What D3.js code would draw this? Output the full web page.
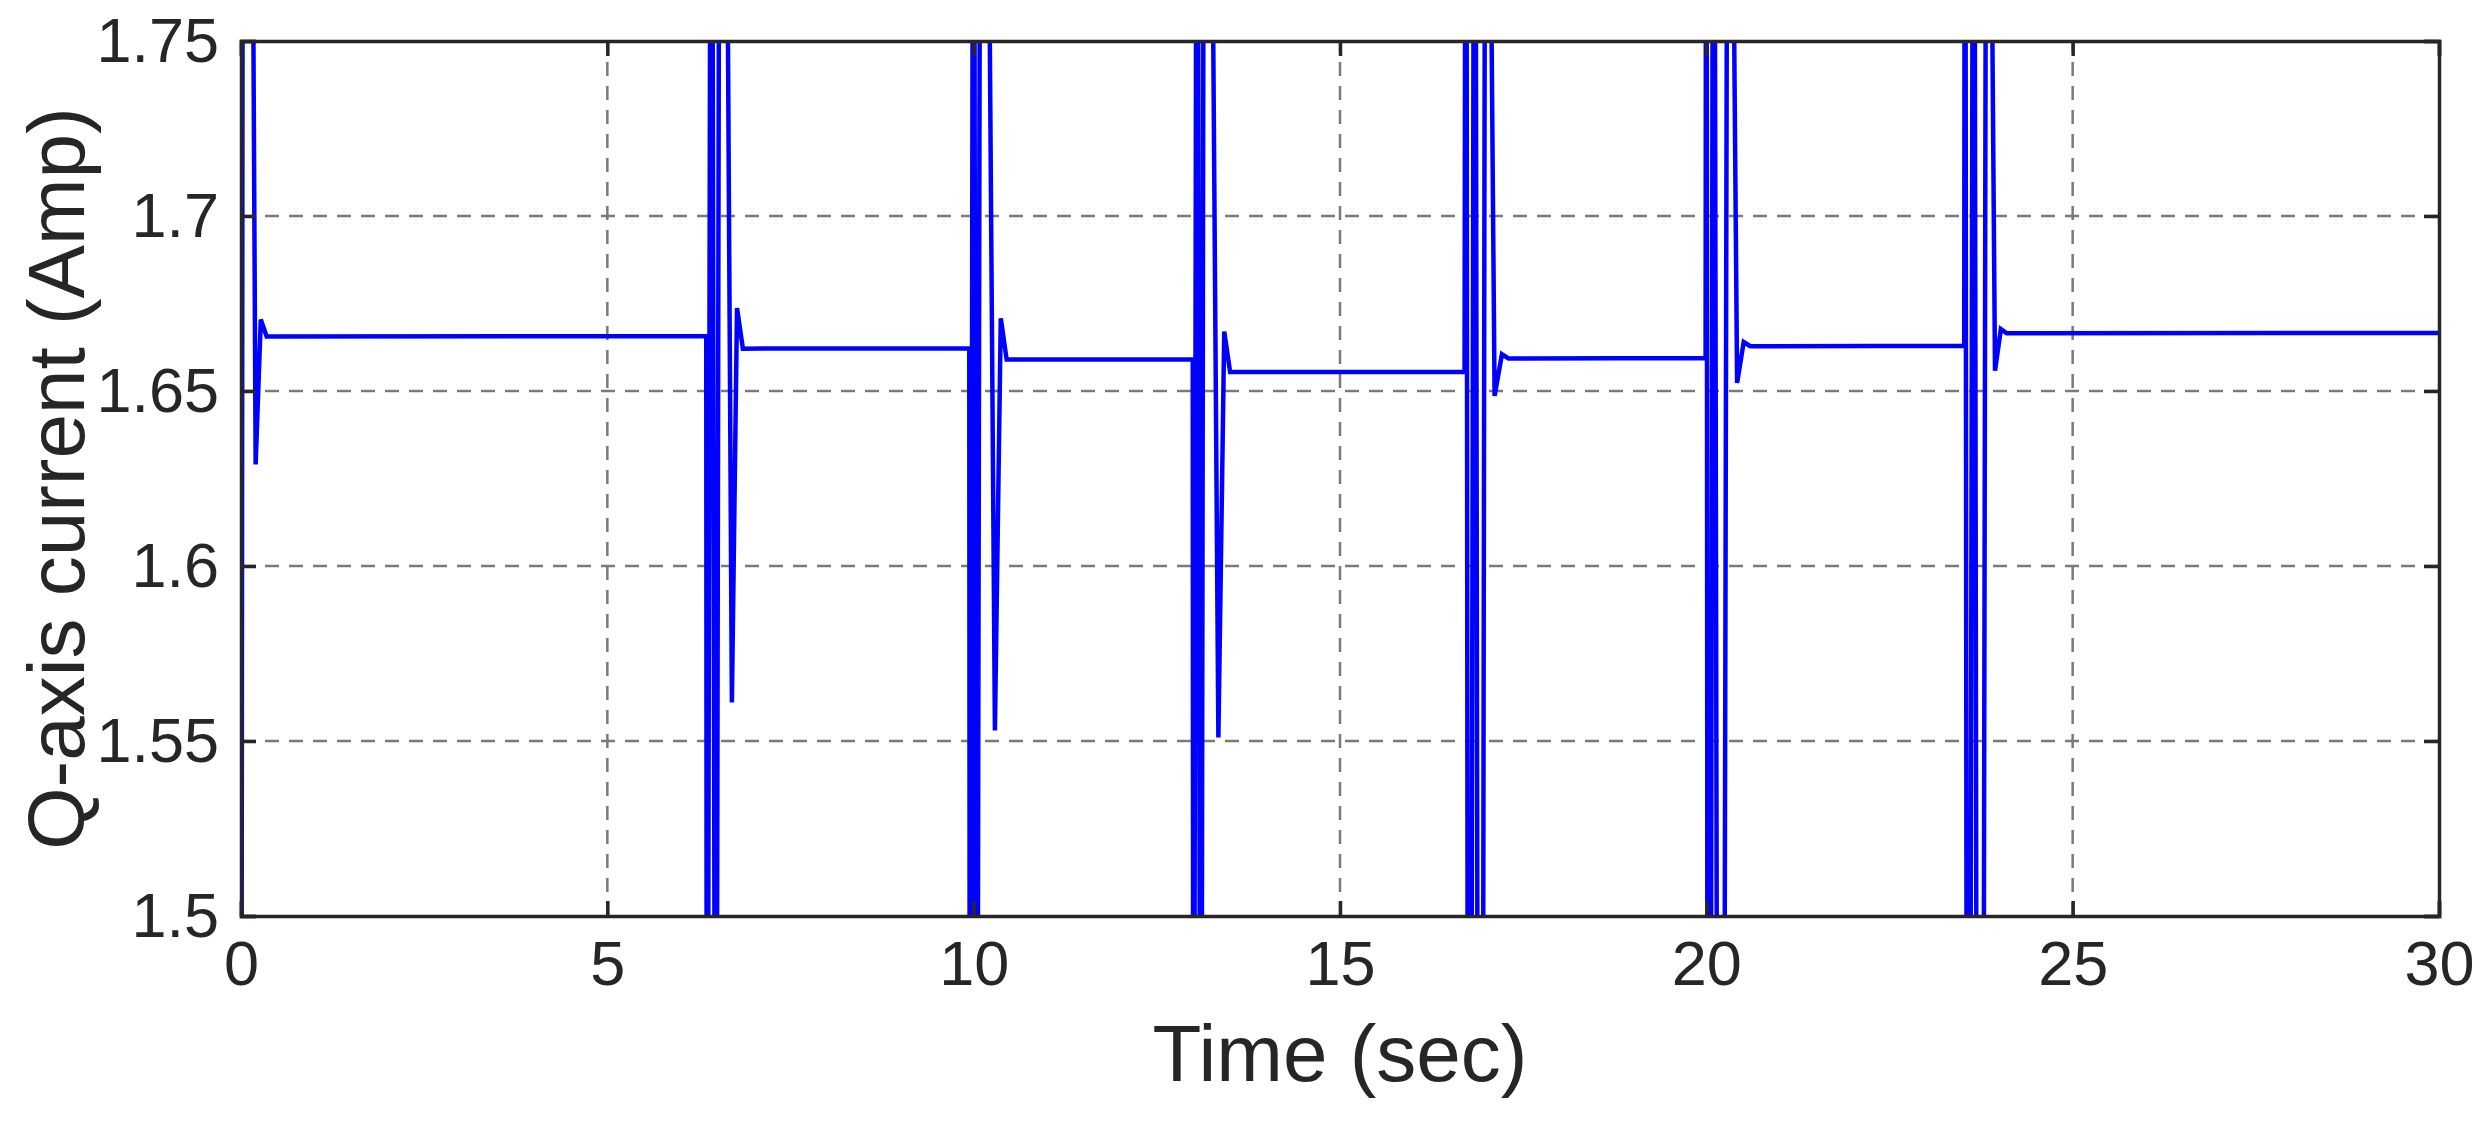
<!DOCTYPE html>
<html>
<head>
<meta charset="utf-8">
<script src="https://cdn.jsdelivr.net/npm/d3@7"></script>
<style>body{margin:0;background:#fff;} text{font-family:Arial,"Liberation Sans",sans-serif;fill:#262626;}</style>
</head>
<body>
<div id="chart"></div>
<script>
// Data (time in sec, current in Amp)
const time = [
  0, 0.03, 0.08, 0.12, 0.2, 0.27, 0.35,
  6.35, 6.36, 6.42, 6.48, 6.54, 6.59, 6.70, 6.77, 6.85,
  9.94, 9.95, 10.0, 10.04, 10.1, 10.15, 10.29, 10.37, 10.45,
  12.99, 13.0, 13.05, 13.1, 13.15, 13.2, 13.34, 13.42, 13.5,
  16.70, 16.72, 16.75, 16.78, 16.84, 16.89, 16.94, 16.99, 17.11, 17.21, 17.3,
  19.99, 20.0, 20.02, 20.05, 20.1, 20.16, 20.23, 20.30, 20.42, 20.51, 20.6,
  23.52, 23.53, 23.56, 23.59, 23.65, 23.70, 23.77, 23.83, 23.94, 24.02, 24.1,
  30
];
const current = [
  1.3, 1.95, 1.95, 1.95, 1.629, 1.6704, 1.6656,
  1.6657, 1.3, 1.95, 1.3, 1.95, 1.95, 1.561, 1.6737, 1.6621,
  1.6622, 1.3, 1.95, 1.3, 1.95, 1.95, 1.553, 1.6708, 1.659,
  1.6591, 1.3, 1.95, 1.3, 1.95, 1.95, 1.551, 1.667, 1.6554,
  1.6555, 1.95, 1.3, 1.3, 1.95, 1.3, 1.3, 1.95, 1.6486, 1.6605, 1.6593,
  1.6594, 1.95, 1.3, 1.3, 1.95, 1.3, 1.3, 1.95, 1.6523, 1.664, 1.6628,
  1.6629, 1.95, 1.3, 1.3, 1.95, 1.3, 1.3, 1.95, 1.6558, 1.6677, 1.6665,
  1.6666
];
const xTicks = [0, 5, 10, 15, 20, 25, 30];
const yTicks = [1.5, 1.55, 1.6, 1.65, 1.7, 1.75];

const width = 2482, height = 1130;
const margin = {top: 41, right: 43, bottom: 214, left: 241};

const svg = d3.select('#chart').append('svg')
    .attr('width', width)
    .attr('height', height);

const x = d3.scaleLinear().domain([0, 30]).range([margin.left, width - margin.right]);
const y = d3.scaleLinear().domain([1.5, 1.75]).range([height - margin.bottom, margin.top]);

// Grid
svg.append('g').selectAll('line').data(xTicks.slice(1, -1)).enter().append('line')
    .attr('x1', d => x(d)).attr('x2', d => x(d))
    .attr('y1', y(1.5)).attr('y2', y(1.75))
    .attr('stroke', '#7a7a7a').attr('stroke-width', 2.5).attr('stroke-dasharray', '14,10');
svg.append('g').selectAll('line').data(yTicks.slice(1, -1)).enter().append('line')
    .attr('x1', x(0)).attr('x2', x(30))
    .attr('y1', d => y(d)).attr('y2', d => y(d))
    .attr('stroke', '#7a7a7a').attr('stroke-width', 2.5).attr('stroke-dasharray', '14,10');

// Clip
svg.append('clipPath').attr('id', 'clip').append('rect')
    .attr('x', x(0)).attr('y', y(1.75))
    .attr('width', x(30) - x(0)).attr('height', y(1.5) - y(1.75));

const pts = time.map((t, i) => [t, current[i]]);
svg.append('path')
    .datum(pts)
    .attr('clip-path', 'url(#clip)')
    .attr('fill', 'none')
    .attr('stroke', '#0000ff')
    .attr('stroke-width', 4.5)
    .attr('d', d3.line().x(d => x(d[0])).y(d => y(d[1])));

// Axes (ticks inside, box)
const fmtY = d => d3.format('')(d);
svg.append('g')
    .attr('transform', `translate(0,${y(1.5)})`)
    .call(d3.axisBottom(x).tickValues(xTicks).tickSize(-15).tickPadding(24))
    .call(g => g.selectAll('text').style('font-size', '63px'));
svg.append('g')
    .attr('transform', `translate(${x(0)},0)`)
    .call(d3.axisLeft(y).tickValues(yTicks).tickFormat(fmtY).tickSize(-15).tickPadding(22))
    .call(g => g.selectAll('text').style('font-size', '63px'));
svg.append('g')
    .attr('transform', `translate(0,${y(1.75)})`)
    .call(d3.axisTop(x).tickValues(xTicks).tickSize(-15).tickFormat(''));
svg.append('g')
    .attr('transform', `translate(${x(30)},0)`)
    .call(d3.axisRight(y).tickValues(yTicks).tickSize(-15).tickFormat(''));
svg.selectAll('.domain, .tick line').attr('stroke', '#262626').attr('stroke-width', 3.5);

// Axis labels
svg.append('text')
    .attr('x', (x(0) + x(30)) / 2)
    .attr('y', 1081)
    .style('text-anchor', 'middle')
    .style('font-size', '80px')
    .text('Time (sec)');
svg.append('text')
    .attr('transform', `translate(84,${(y(1.5) + y(1.75)) / 2}) rotate(-90)`)
    .style('text-anchor', 'middle')
    .style('font-size', '80px')
    .text('Q-axis current (Amp)');
</script>
</body>
</html>
